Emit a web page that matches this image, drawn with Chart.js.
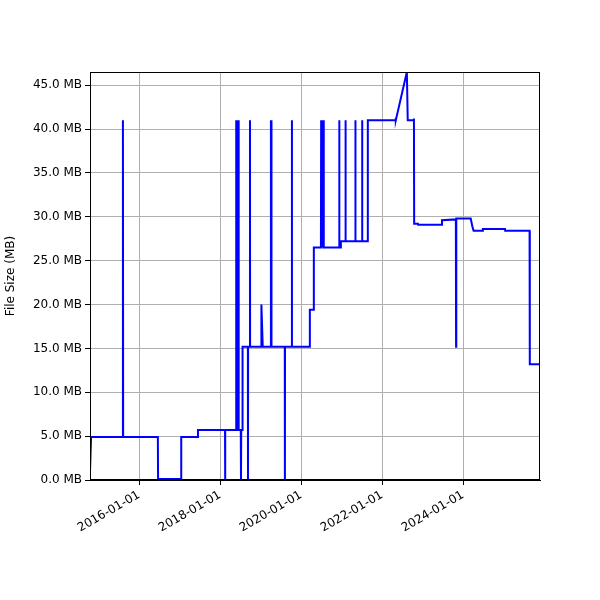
<!DOCTYPE html>
<html><head><script src="https://cdn.jsdelivr.net/npm/chart.js"></script>
<style>body{margin:0;background:#fff}#w{width:600px;height:600px}</style></head>
<body><div id="w"><canvas id="c"></canvas></div>
<script>
const dates = ["2014-10-15","2014-10-25","2015-08-06","2015-08-08","2015-08-10","2016-06-18","2016-06-20","2017-01-13","2017-01-15","2017-06-13","2017-06-15",
"2018-02-14","2018-02-15","2018-02-16","2018-05-24","2018-05-25","2018-05-27","2018-06-04","2018-06-05","2018-06-07","2018-06-15","2018-06-16","2018-06-18","2018-07-06","2018-07-08","2018-07-10","2018-07-20","2018-07-22",
"2018-09-08","2018-09-09","2018-09-10","2018-09-26","2018-09-27","2018-09-28","2019-01-05","2019-01-08","2019-01-20","2019-04-02","2019-04-04","2019-04-06","2019-04-08","2019-04-10",
"2019-08-07","2019-08-08","2019-08-09","2019-10-09","2019-10-10","2019-10-11","2020-03-18","2020-03-20","2020-04-22","2020-04-25",
"2020-06-28","2020-06-30","2020-07-03","2020-07-08","2020-07-10","2020-07-14","2020-07-20","2020-07-22","2020-07-25",
"2020-12-08","2020-12-10","2020-12-12","2020-12-24","2020-12-25","2021-02-04","2021-02-05","2021-02-06","2021-05-04","2021-05-05","2021-05-06","2021-07-04","2021-07-05","2021-07-06","2021-08-24","2021-08-25",
"2022-05-01","2022-05-03","2022-05-06","2022-08-12","2022-08-20","2022-10-12","2022-10-15","2022-10-17","2022-11-20","2022-11-22","2023-06-23","2023-06-25",
"2023-10-28","2023-10-30","2023-11-01","2024-03-10","2024-03-25","2024-04-05","2024-06-26","2024-06-28","2025-01-13","2025-01-15","2025-08-23","2025-08-25","2025-11-25"];
const sizes = [1.0,4.9,4.9,41,4.9,4.9,0.1,0.1,4.9,4.9,5.7,
5.7,0,5.7,5.7,41,5.7,5.7,41,5.7,5.7,41,5.7,5.7,0,5.7,5.7,15.2,
15.2,0,15.2,15.2,41,15.2,15.2,20,15.2,15.2,41,15.2,41,15.2,
15.2,0,15.2,15.2,41,15.2,15.2,19.4,19.4,26.5,
26.5,41,26.5,41,26.5,41,26.5,41,26.5,
26.5,41,26.5,26.5,27.2,27.2,41,27.2,27.2,41,27.2,27.2,41,27.2,27.2,41,
41,41.3,41,46.5,41,41,41.2,29.2,29.2,29.1,29.1,29.6,
29.7,15.2,29.8,29.8,28.9,28.4,28.4,28.6,28.6,28.4,28.4,13.2,13.2];
const xTicks = ["2016-01-01","2018-01-01","2020-01-01","2022-01-01","2024-01-01"];
const yTicks = [0,5,10,15,20,25,30,35,40,45];
const data = dates.map((d,i)=>({x:Date.parse(d),y:sizes[i]}));
const frame={id:'frame',afterDraw(c){const a=c.chartArea,x=c.ctx;x.save();x.strokeStyle='#000';x.lineWidth=1;x.strokeRect(a.left+0.5,a.top+0.5,a.right-a.left-1,a.bottom-a.top-1);x.restore();}};
new Chart(document.getElementById('c'),{type:'line',
data:{datasets:[{data,borderColor:'#0000ff',borderWidth:2,pointRadius:0,tension:0,fill:false}]},
plugins:[frame],
options:{responsive:true,maintainAspectRatio:false,animation:false,
layout:{padding:{left:0,right:60,top:72,bottom:0}},
plugins:{legend:{display:false},tooltip:{enabled:false}},
scales:{
x:{type:'linear',min:Date.parse("2014-10-15"),max:Date.parse("2025-11-25"),
 afterBuildTicks:s=>{s.ticks=xTicks.map(t=>({value:Date.parse(t)}));},
 afterFit:s=>{s.height=120;},
 grid:{color:'#b0b0b0',tickLength:5,tickColor:'#000'},border:{color:'#000'},
 ticks:{color:'#000',font:{family:'DejaVu Sans',size:12},maxRotation:30,minRotation:30,autoSkip:false,
  callback:v=>new Date(v).toISOString().slice(0,10)}},
y:{min:0,max:46.5,
 afterBuildTicks:s=>{s.ticks=yTicks.map(v=>({value:v}));},
 afterFit:s=>{s.width=90;},
 grid:{color:'#b0b0b0',tickLength:5,tickColor:'#000'},border:{color:'#000'},
 title:{display:true,text:'File Size (MB)',color:'#000',font:{family:'DejaVu Sans',size:12}},
 ticks:{color:'#000',font:{family:'DejaVu Sans',size:12},callback:v=>v.toFixed(1)+' MB'}}
}}});
</script></body></html>
